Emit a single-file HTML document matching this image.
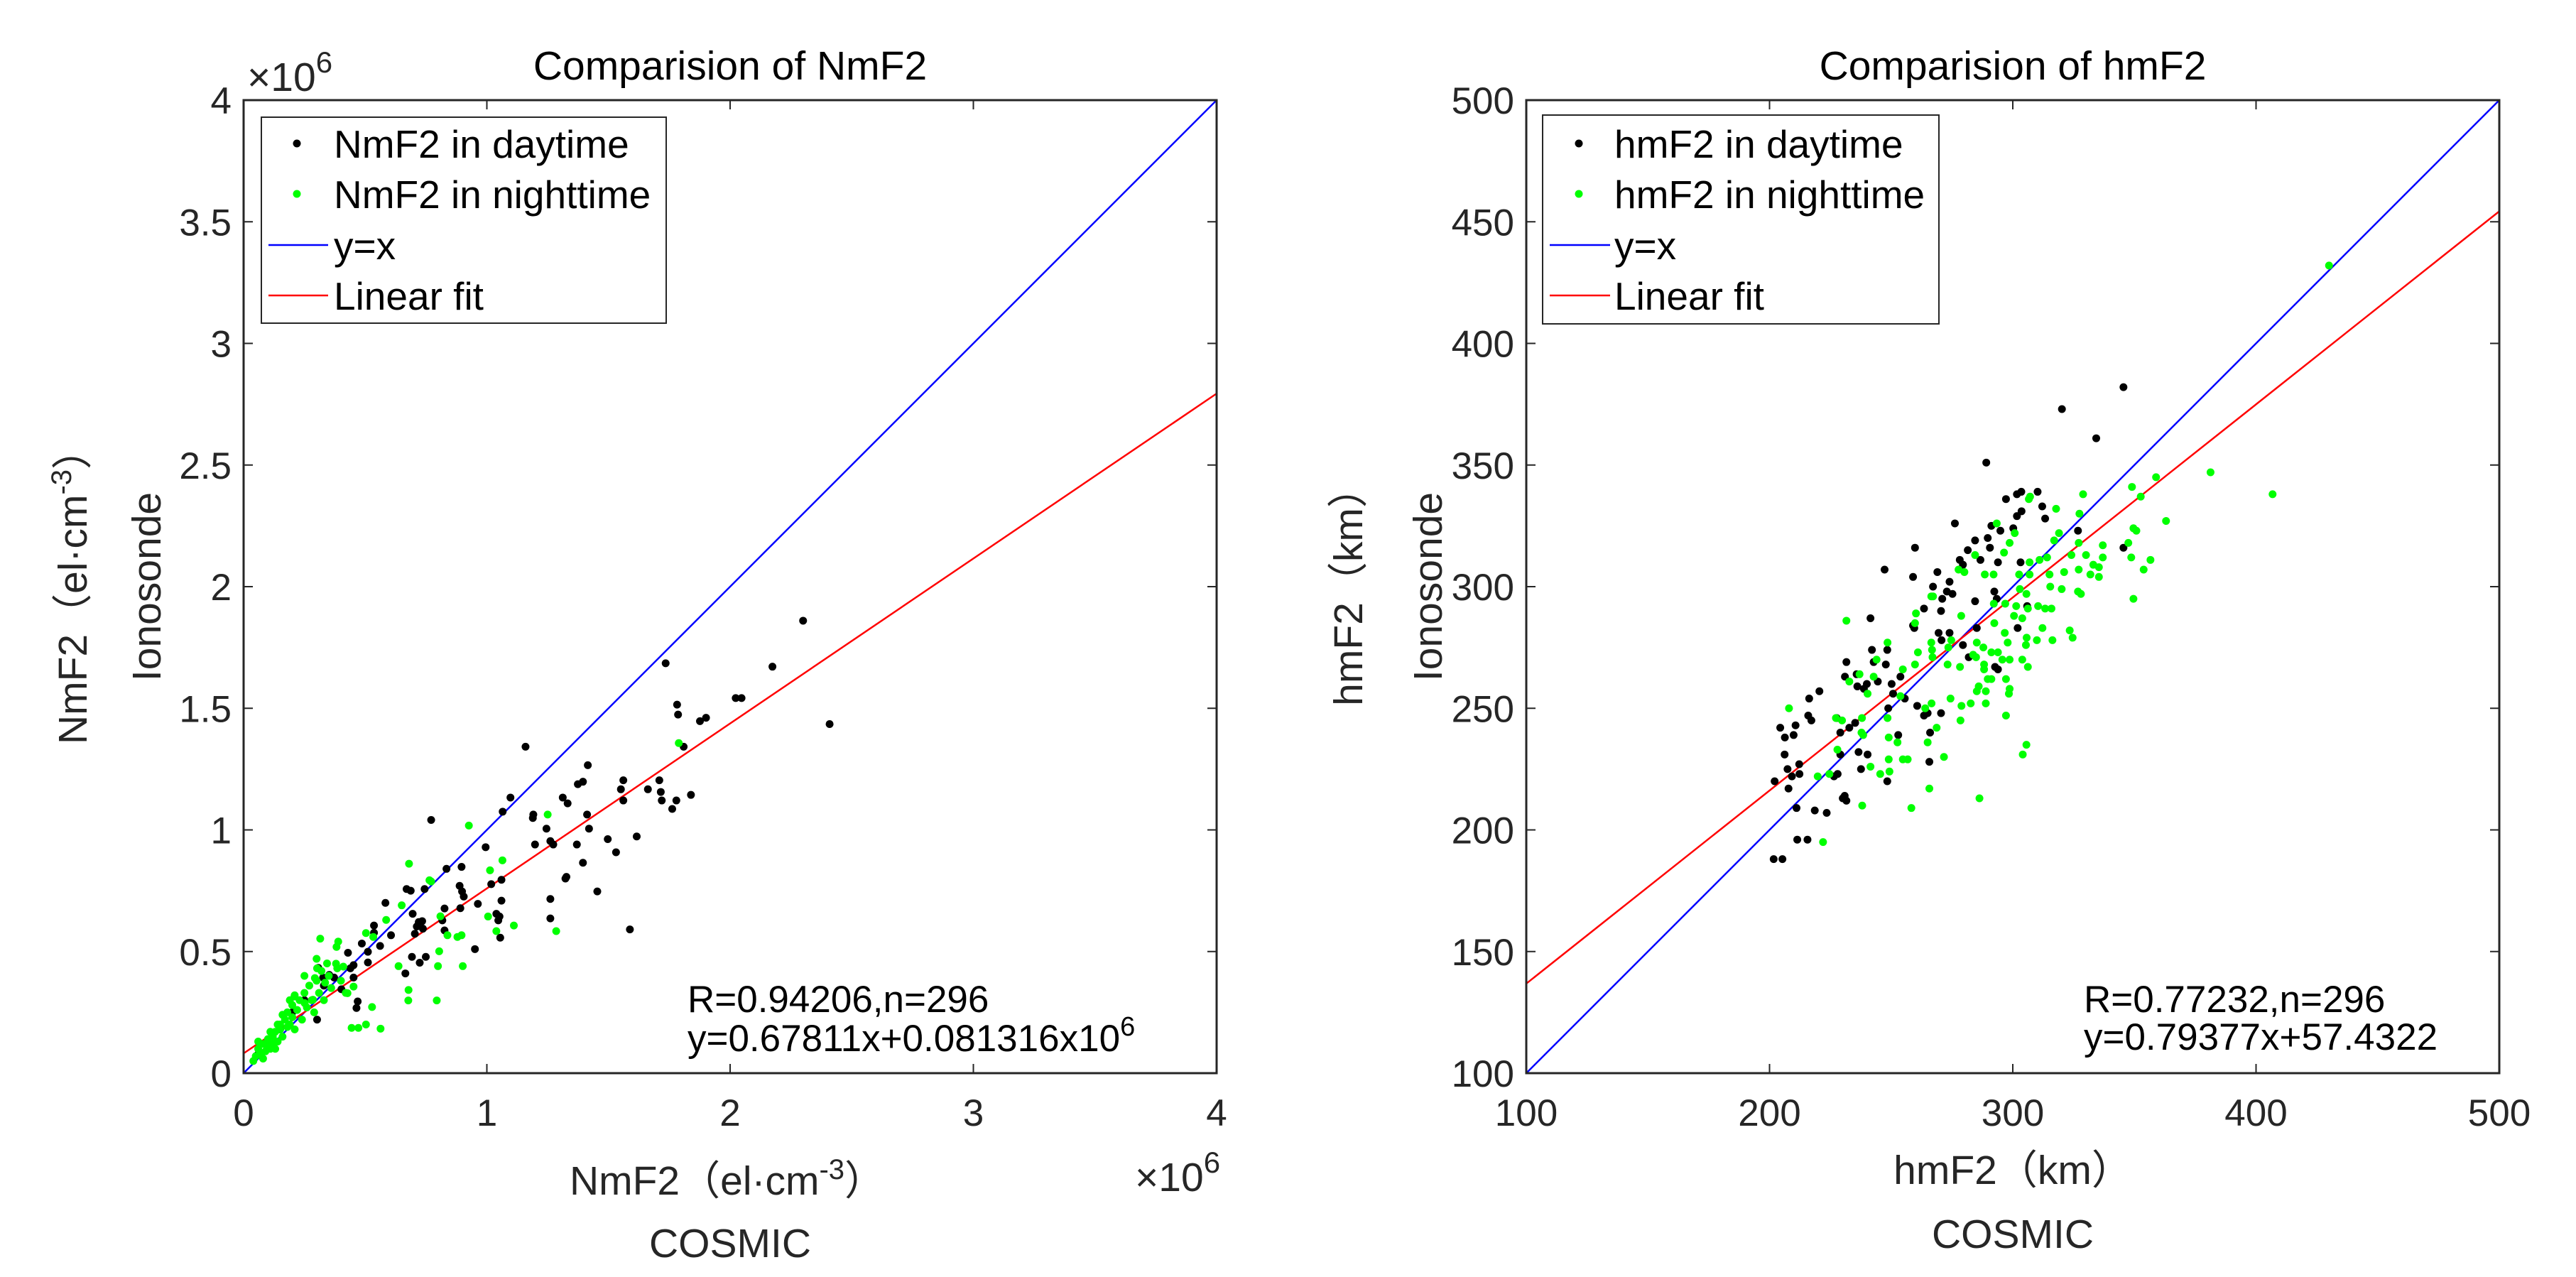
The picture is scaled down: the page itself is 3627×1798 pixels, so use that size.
<!DOCTYPE html>
<html><head><meta charset="utf-8">
<style>
html,body{margin:0;padding:0;background:#fff;}
svg{display:block;font-family:"Liberation Sans","Noto Sans CJK SC",sans-serif;}
.tick{font-size:53px;fill:#262626;}
.ttl{font-size:57px;fill:#000;}
.lab{font-size:57px;fill:#262626;}
.leg{font-size:55px;fill:#000;}
.ann{font-size:53px;fill:#000;}
</style></head>
<body>
<svg id="fig" width="3627" height="1798" viewBox="0 0 3627 1798" xmlns="http://www.w3.org/2000/svg">
<rect x="0" y="0" width="3627" height="1798" fill="#fff"/>
<g id="left"></g>
<g id="right"></g>
</svg>
<script>
// ---------- Data: NmF2 (units 1e6 el/cm3) ----------
const nmDayX = [2.30,1.735,2.174,2.023,2.047,1.782,1.786,1.876,1.901,2.409,1.159,1.809,1.415,1.374,1.395,1.561,1.551,1.709,1.662,1.715,1.839,1.779,1.719,1.762,1.561,1.097,1.312,1.332,1.191,1.189,1.065,1.412,0.771,1.245,1.42,1.261,1.273,1.198,1.370,1.497,1.616,0.995,1.531,1.395,0.834,0.896,1.323,1.327,1.018,1.060,0.670,0.687,0.744,0.888,0.898,0.905,1.454,0.583,0.963,1.060,1.261,0.826,0.891,0.695,1.039,1.047,1.052,1.261,0.720,0.734,0.712,0.737,0.817,0.826,0.536,0.536,0.606,0.704,1.055,1.588,0.561,0.486,0.951,0.511,0.511,0.429,0.692,0.749,0.724,0.452,0.439,0.665,0.307,0.327,0.352,0.372,0.452,0.402,0.469,0.464,0.302,0.059,0.15,0.2,0.1,0.25,0.33];
const nmDayY = [1.86,1.685,1.671,1.542,1.542,1.515,1.474,1.447,1.461,1.435,1.342,1.342,1.266,1.188,1.198,1.204,1.167,1.204,1.167,1.156,1.144,1.121,1.121,1.086,1.121,1.133,1.133,1.109,1.063,1.049,1.075,1.063,1.041,1.005,1.005,0.954,0.940,0.940,0.940,0.962,0.973,0.929,0.908,0.865,0.840,0.848,0.800,0.807,0.777,0.795,0.757,0.750,0.757,0.770,0.747,0.726,0.747,0.700,0.696,0.709,0.716,0.677,0.678,0.655,0.655,0.628,0.644,0.636,0.621,0.625,0.603,0.594,0.628,0.587,0.607,0.577,0.567,0.573,0.557,0.591,0.523,0.533,0.510,0.499,0.455,0.495,0.478,0.478,0.454,0.444,0.431,0.410,0.433,0.393,0.404,0.393,0.393,0.345,0.295,0.268,0.220,0.077,0.18,0.25,0.12,0.3,0.36];
const nmNightX = [1.789,1.250,0.926,0.680,1.064,1.013,0.764,0.771,0.650,0.586,1.005,1.111,0.809,1.039,1.285,0.838,0.879,0.896,0.503,0.533,0.315,0.389,0.382,0.804,0.637,0.799,0.901,0.678,0.677,0.794,0.528,0.444,0.472,0.503,0.563,0.343,0.385,0.410,0.302,0.293,0.335,0.452,0.427,0.209,0.251,0.285,0.05,0.06,0.07,0.08,0.09,0.1,0.1,0.11,0.12,0.12,0.13,0.14,0.15,0.15,0.16,0.17,0.18,0.18,0.19,0.2,0.2,0.21,0.22,0.23,0.24,0.25,0.26,0.27,0.28,0.29,0.3,0.31,0.32,0.33,0.35,0.36,0.38,0.4,0.42,0.04,0.08,0.13,0.16,0.21,0.3,0.14,0.25,0.11,0.19,0.06];
const nmNightY = [1.357,1.063,1.018,0.861,0.875,0.834,0.793,0.788,0.690,0.630,0.644,0.607,0.645,0.584,0.584,0.567,0.560,0.567,0.576,0.560,0.553,0.541,0.519,0.501,0.440,0.440,0.440,0.342,0.299,0.299,0.272,0.186,0.186,0.200,0.183,0.451,0.431,0.438,0.431,0.391,0.372,0.356,0.329,0.315,0.288,0.302,0.07,0.1,0.08,0.12,0.09,0.11,0.14,0.1,0.15,0.12,0.17,0.13,0.18,0.2,0.15,0.22,0.19,0.25,0.2,0.23,0.28,0.18,0.26,0.3,0.22,0.33,0.27,0.36,0.3,0.25,0.38,0.33,0.42,0.3,0.4,0.35,0.45,0.38,0.33,0.05,0.06,0.1,0.24,0.32,0.47,0.2,0.4,0.17,0.3,0.13];
const nmTicksX = [0,1,2,3,4];
const nmTicksY = [0,0.5,1,1.5,2,2.5,3,3.5,4];
const nmFit = [0.67811, 0.081316];

// ---------- Data: hmF2 (km) ----------
const hmDayX = [345.5,320.2,334.3,289.1,310.2,303.5,301.7,297.2,312.1,313.3,303.6,301.7,276.2,300.2,294.9,291.2,289.7,290.6,284.5,281.5,286.7,278.2,279.5,293.9,303.2,326.8,345.5,259.8,247.3,259,269,267.2,274,272.9,275.2,271,284.5,292.4,293.4,263.5,270.5,305.9,241.5,259,259.5,269.5,274,270.7,302,285.2,279.5,281.9,242.1,248.4,247.8,231.6,242.8,253.8,231,235.8,240,244.5,236.1,238.8,250.2,292.7,293.9,220.5,216.3,250.8,255.6,248.8,260.7,215.9,217.2,204.4,210.7,206.3,209.9,227.6,229.1,232.8,235.2,263.5,265,270.5,252.9,266,206.2,212.2,229.1,236.6,240.3,207.4,209.2,212.3,226.5,228,237.6,265.7,202.1,207.8,248.4,230.9,231.6,230.1,211.1,218.6,223.5,211.4,215.6,201.7,205.3];
const hmDayY = [382,373,361,351,339,339,338,336,333,328,331,329,326,324,323,325,320,316,319,315,311,311,309,310,310,323,316,316,307,304,306,300,302,298,297,295,294,298,295,291,290,292,287,284,283,281,281,278,283,283,276,271,274,274,268,269,269,263,263,264,260,261,259,258,260,267,266,257,254,256,254,250,251,247,245,242,243,238,239,246,240,242,244,247,248,248,239,240,231,227,231,232,231,225,222,223,222,223,225,228,220,217,220,214,212,213,209,208,207,196,196,188,188];
const hmNightX = [430,406.8,381.3,358.9,349,352.6,363,349.6,350.8,347.5,337,348.7,356.6,353.8,349.6,328.9,317.8,327.4,307.1,306.6,319,317,300.8,298.7,296.4,293.4,327.1,324.1,330.1,337,333.1,335.4,331.9,335.4,327.1,321.1,315.1,326.8,328,320.1,315.4,306.9,311,314.1,302.6,306.9,288.5,292.1,302.9,305.6,277.7,280.1,284.5,266.5,267.2,292.2,296.9,301.4,306.2,310.4,313.3,315.9,300.5,303.9,292.4,296.7,312.2,316.3,323.4,324.6,309.9,305.7,305.4,278.8,260.2,259.8,248.5,261,266.5,266.8,267,273.5,274.7,285.2,287.9,291.2,293.9,297.9,298.7,303.9,306.2,295.7,283.7,284.9,288.2,288.2,278.3,273.2,259.8,254.8,244,237,232.8,242.8,291.2,289.7,297.2,286,288.9,285.2,298.7,298.4,288.9,282.7,278.9,274.4,297.2,278.5,253.8,240.3,266.6,264,268.7,248.5,238,227.3,229.8,237.8,238.5,249,252.6,265,305.6,304.1,271.7,256.8,254.8,249,249.3,245.5,241.5,227.9,224.6,219.8,208,231.6,265.7,286.3,258.3,238.1,222];
const hmNightY = [432,338,347,345,341,337,327,324,323,318,317,312,311,307,295,338,332,330,337,336,322,319,322,318,314,326,318,313,313,312,309,308,305,304,307,306,305,298,297,299,300,310,311,312,305,305,305,305,299,297,307,306,313,296,296,293,293,292,291,292,291,291,288,287,285,281,283,278,282,279,278,279,276,288,289,285,277,273,277,274,271,275,278,277,275,273,273,277,270,270,267,270,272,271,268,266,267,268,268,266,270,264,261,263,262,262,262,259,257,257,258,256,252,252,251,254,247,245,255,256,252,250,242,246,246,246,245,240,239,238,236,236,235,231,230,229,229,229,224,223,226,233,223,222,250,286,217,213,209,210,195];
const hmTicksX = [100,200,300,400,500];
const hmTicksY = [100,150,200,250,300,350,400,450,500];
const hmFit = [0.79377, 57.4322];

const NS = "http://www.w3.org/2000/svg";
function mk(parent, tag, attrs, text){
  const e = document.createElementNS(NS, tag);
  for (const k in attrs) e.setAttribute(k, attrs[k]);
  if (text !== undefined) e.textContent = text;
  parent.appendChild(e);
  return e;
}

function drawChart(cfg){
  const g = document.getElementById(cfg.id);
  const X0 = cfg.x0, X1 = cfg.x0 + 1370, YB = 1511, YT = 141;
  const sx = v => X0 + (v - cfg.min) / (cfg.max - cfg.min) * (X1 - X0);
  const sy = v => YB - (v - cfg.min) / (cfg.max - cfg.min) * (YB - YT);

  const lg = mk(g, 'g', {});
  
  
  const yx = mk(lg, 'line', {x1: sx(cfg.min), y1: sy(cfg.min), x2: sx(cfg.max), y2: sy(cfg.max), stroke: '#0000ff', 'stroke-width': 2.5});
  
  
  const fy = x => cfg.fit[0] * x + cfg.fit[1];
  const fl = mk(lg, 'line', {x1: sx(cfg.min), y1: sy(fy(cfg.min)), x2: sx(cfg.max), y2: sy(fy(cfg.max)), stroke: '#ff0000', 'stroke-width': 2.5});
  
  

  const pd = mk(g, 'g', {fill: '#000'});
  
  
  cfg.dayX.forEach((v, i) => {
    const c = mk(pd, 'circle', {cx: sx(v), cy: sy(cfg.dayY[i]), r: 5.5});
    
    
  });
  const pn = mk(g, 'g', {fill: '#00ff00'});
  
  
  cfg.nightX.forEach((v, i) => {
    const c = mk(pn, 'circle', {cx: sx(v), cy: sy(cfg.nightY[i]), r: 5.5});
    
    
  });

  const box = mk(g, 'rect', {x: X0, y: YT, width: X1 - X0, height: YB - YT, fill: 'none', stroke: '#262626', 'stroke-width': 3});
  
  

  cfg.ticksX.forEach((t, i) => {
    const x = sx(t);
    mk(g, 'line', {x1: x, y1: YB, x2: x, y2: YB - 13, stroke: '#262626', 'stroke-width': 2});
    mk(g, 'line', {x1: x, y1: YT, x2: x, y2: YT + 13, stroke: '#262626', 'stroke-width': 2});
    const tl = mk(g, 'text', {x: x, y: 1585, 'text-anchor': 'middle', class: 'tick'}, cfg.ticksXLab[i]);
    
    
  });
  cfg.ticksY.forEach((t, i) => {
    const y = sy(t);
    mk(g, 'line', {x1: X0, y1: y, x2: X0 + 13, y2: y, stroke: '#262626', 'stroke-width': 2});
    mk(g, 'line', {x1: X1, y1: y, x2: X1 - 13, y2: y, stroke: '#262626', 'stroke-width': 2});
    const tl = mk(g, 'text', {x: X0 - 17, y: y + 19, 'text-anchor': 'end', class: 'tick'}, cfg.ticksYLab[i]);
    
    
  });
}

drawChart({id: 'left', x0: 343, min: 0, max: 4, dayX: nmDayX, dayY: nmDayY, nightX: nmNightX, nightY: nmNightY,
  ticksX: nmTicksX, ticksXLab: nmTicksX.map(String), ticksY: nmTicksY, ticksYLab: nmTicksY.map(String), fit: nmFit});
drawChart({id: 'right', x0: 2149, min: 100, max: 500, dayX: hmDayX, dayY: hmDayY, nightX: hmNightX, nightY: hmNightY,
  ticksX: hmTicksX, ticksXLab: hmTicksX.map(String), ticksY: hmTicksY, ticksYLab: hmTicksY.map(String), fit: hmFit});
</script>

<script>
const fig = document.getElementById('fig');
fig.insertAdjacentHTML('beforeend', `
<text x="1028" y="112" text-anchor="middle" class="ttl">Comparision of NmF2</text>
<text x="2834" y="112" text-anchor="middle" class="ttl">Comparision of hmF2</text>
<text x="348" y="128" class="tick" style="font-size:57px">×10<tspan dy="-26" style="font-size:42px">6</tspan></text>
<text x="1598" y="1677" class="tick" style="font-size:57px">×10<tspan dy="-26" style="font-size:42px">6</tspan></text>
<text x="1024" y="1682" text-anchor="middle" class="lab">NmF2（el·cm<tspan dy="-22" style="font-size:40px">-3</tspan><tspan dy="22">）</tspan></text>
<text x="1028" y="1770" text-anchor="middle" class="lab">COSMIC</text>
<text x="2834" y="1667" text-anchor="middle" class="lab">hmF2（km）</text>
<text x="2834" y="1757" text-anchor="middle" class="lab">COSMIC</text>
<text transform="translate(122,826) rotate(-90)" text-anchor="middle" class="lab">NmF2（el·cm<tspan dy="-22" style="font-size:40px">-3</tspan><tspan dy="22">）</tspan></text>
<text transform="translate(226,826) rotate(-90)" text-anchor="middle" class="lab">Ionosonde</text>
<text transform="translate(1918,826) rotate(-90)" text-anchor="middle" class="lab">hmF2（km）</text>
<text transform="translate(2030,826) rotate(-90)" text-anchor="middle" class="lab">Ionosonde</text>
<text x="968" y="1425" class="ann">R=0.94206,n=296</text>
<text x="968" y="1480" class="ann">y=0.67811x+0.081316x10<tspan dy="-22" style="font-size:38px">6</tspan></text>
<text x="2934" y="1425" class="ann">R=0.77232,n=296</text>
<text x="2934" y="1478" class="ann">y=0.79377x+57.4322</text>
<g>
<rect x="368" y="165" width="570" height="290" fill="#fff" stroke="#262626" stroke-width="2"/>
<circle cx="418" cy="202" r="5.5" fill="#000"/>
<text x="470" y="222" class="leg">NmF2 in daytime</text>
<circle cx="418" cy="273" r="5.5" fill="#00ff00"/>
<text x="470" y="293" class="leg">NmF2 in nighttime</text>
<line x1="378" y1="345" x2="462" y2="345" stroke="#0000ff" stroke-width="2.5"/>
<text x="470" y="365" class="leg">y=x</text>
<line x1="378" y1="416" x2="462" y2="416" stroke="#ff0000" stroke-width="2.5"/>
<text x="470" y="436" class="leg">Linear fit</text>
</g>
<g>
<rect x="2172" y="162" width="558" height="294" fill="#fff" stroke="#262626" stroke-width="2"/>
<circle cx="2223" cy="202" r="5.5" fill="#000"/>
<text x="2273" y="222" class="leg">hmF2 in daytime</text>
<circle cx="2223" cy="273" r="5.5" fill="#00ff00"/>
<text x="2273" y="293" class="leg">hmF2 in nighttime</text>
<line x1="2182" y1="345" x2="2267" y2="345" stroke="#0000ff" stroke-width="2.5"/>
<text x="2273" y="365" class="leg">y=x</text>
<line x1="2182" y1="416" x2="2267" y2="416" stroke="#ff0000" stroke-width="2.5"/>
<text x="2273" y="436" class="leg">Linear fit</text>
</g>`);
</script>
</body></html>
